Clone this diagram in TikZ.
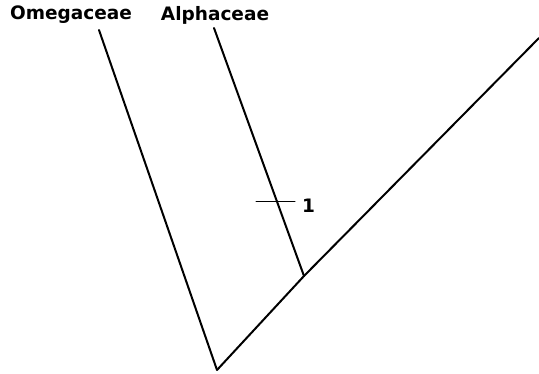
\documentclass[tikz,border=0pt]{standalone}
\usepackage{fontspec}
\setmainfont{DejaVu Sans}
\definecolor{branchblack}{RGB}{0,0,0}

\begin{document}
\begin{tikzpicture}[x=1pt, y=-1pt, line width=2pt, line cap=round, line join=round,
  taxon/.style={font=\fontsize{18.5}{22}\selectfont\bfseries, inner sep=0pt}]

\useasboundingbox (0,0) rectangle (539,374);

% ---------- Nodes of the tree ----------
\coordinate (root) at (217,370);
\coordinate (alphajoin) at (304,276);
\coordinate (omegatip) at (99,30);
\coordinate (alphatip) at (214,28);
\coordinate (outtip) at (539,38);

% ---------- Taxon labels ----------
\node[taxon] (omega) at (71,15) {Omegaceae};
\node[taxon] (alpha) at (215,15) {Alphaceae};

% ---------- Branches ----------
\draw[branchblack] (omegatip) -- (root);
\draw[branchblack] (root) -- (alphajoin) -- (outtip);
\draw[branchblack] (alphatip) -- (alphajoin);

% ---------- Character change ----------
\coordinate (tickL) at (256,202);
\coordinate (tickR) at (295,202);
\draw[branchblack, line width=1pt] (tickL) -- (tickR);
\node[taxon, anchor=west] (change) at (301,206) {1};

\end{tikzpicture}
\end{document}
